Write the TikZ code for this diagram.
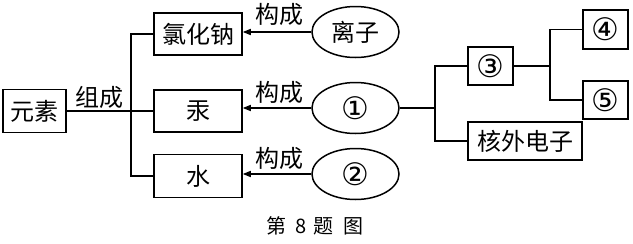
\documentclass[tikz,border=0pt]{standalone}
\usepackage{fontspec}
\setmainfont{Noto Sans CJK SC}
\newfontfamily\circfont{DejaVu Sans}
\usetikzlibrary{shapes.geometric,arrows.meta}
\tikzset{
  x=1pt,y=1pt,
  box/.style={draw,line width=1.5pt,inner sep=0pt,font=\fontsize{24}{26}\selectfont},
  ell/.style={draw,ellipse,line width=1.5pt,inner sep=0pt,minimum width=87pt,minimum height=51pt,font=\fontsize{24}{26}\selectfont},
  conn/.style={line width=1.5pt},
  arr/.style={line width=1.5pt,-{Triangle[length=8pt,width=6pt]}},
  lbl/.style={font=\fontsize{24}{26}\selectfont,inner sep=0pt},
  circ/.style={font=\circfont\fontsize{31}{33}\selectfont}
}
\begin{document}
\begin{tikzpicture}
\useasboundingbox (0,0) rectangle (633,-244);
% boxes
\node[box,minimum width=63pt,minimum height=43pt] (yuansu) at (34.5,-111) {元素};
\node[box,minimum width=88pt,minimum height=42pt] (nacl) at (198,-34) {氯化钠};
\node[box,minimum width=88pt,minimum height=42pt] (hg) at (198,-111) {汞};
\node[box,minimum width=88pt,minimum height=43pt] (water) at (198,-176) {水};
\node[ell] (lizi) at (355.5,-32) {离子};
\node[ell,circ] (one) at (355.5,-108) {①};
\node[ell,circ] (two) at (355.5,-174) {②};
\node[box,circ,minimum width=45pt,minimum height=38pt] (three) at (490.5,-66) {③};
\node[box,minimum width=114pt,minimum height=38pt] (hewai) at (525,-141) {核外电子};
\node[box,circ,minimum width=45pt,minimum height=39pt] (four) at (605.5,-29.5) {④};
\node[box,circ,minimum width=45pt,minimum height=38pt] (five) at (605.5,-100) {⑤};
% junction coordinates
\coordinate (t1) at (131,0);
\coordinate (t2) at (435,0);
\coordinate (t3) at (550,0);
% left tree
\draw[conn] (yuansu.east) -- (hg.west);
\draw[conn] (nacl.west) -| (t1 |- water.west) -- (water.west);
% arrows
\draw[arr] (lizi.west) -- (nacl.east |- lizi.west);
\draw[arr] (one.west) -- (hg.east |- one.west);
\draw[arr] (two.west) -- (water.east |- two.west);
% right tree
\draw[conn] (one.east) -- (t2 |- one.east);
\draw[conn] (three.west) -| (t2 |- hewai.west) -- (hewai.west);
\draw[conn] (three.east) -- (t3 |- three.east);
\draw[conn] (four.west) -| (t3 |- five.west) -- (five.west);
% labels
\node[lbl] (zucheng) at (99,-97) {组成};
\node[lbl] (gc1) at (279,-14) {构成};
\node[lbl] (gc2) at (279,-92) {构成};
\node[lbl] (gc3) at (279,-158) {构成};
\node[lbl,font=\fontsize{20}{22}\selectfont] (cap) at (315,-226) {第\hspace{9pt}8\hspace{6pt}题\hspace{10pt}图};
\end{tikzpicture}
\end{document}
